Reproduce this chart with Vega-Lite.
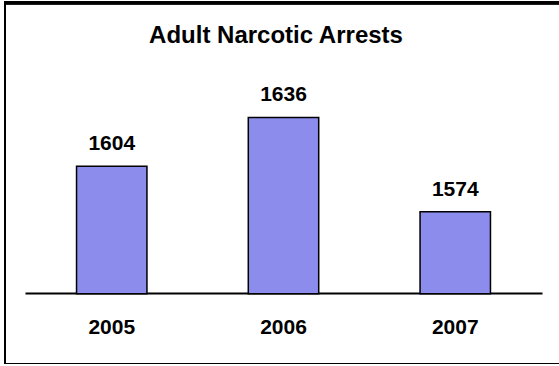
{
  "$schema": "https://vega.github.io/schema/vega-lite/v6.json",
  "autosize": {"type": "none"},
  "padding": {"left": 5, "top": 2, "right": 0, "bottom": 0},
  "width": 556,
  "height": 362,
  "background": "white",
  "config": {
    "view": {"stroke": "black", "strokeWidth": 2},
    "font": "Liberation Sans"
  },
  "title": {
    "text": "Adult Narcotic Arrests",
    "font": "Liberation Sans",
    "fontSize": 24,
    "fontWeight": "bold",
    "color": "black",
    "anchor": "middle",
    "baseline": "alphabetic",
    "offset": -65,
    "dx": -7
  },
  "data": {
    "values": [
      {"year": "2005", "arrests": 1604},
      {"year": "2006", "arrests": 1636},
      {"year": "2007", "arrests": 1574}
    ]
  },
  "layer": [
    {
      "mark": {"type": "bar", "fill": "#8c8cec", "stroke": "black", "strokeWidth": 1.5},
      "encoding": {
        "x": {
          "field": "year",
          "type": "nominal",
          "sort": null,
          "scale": {"range": [20, 537], "paddingInner": 0.59, "paddingOuter": 0.3},
          "axis": {
            "title": null,
            "orient": "bottom",
            "offset": -71,
            "domainColor": "black",
            "domainWidth": 2,
            "ticks": false,
            "tickSize": 0,
            "labelPadding": 23,
            "labelBaseline": "top",
            "labelFont": "Liberation Sans",
            "labelFontSize": 21,
            "labelFontWeight": "bold",
            "labelColor": "black",
            "labelAngle": 0
          }
        },
        "y": {
          "field": "arrests",
          "type": "quantitative",
          "scale": {"domain": [1473.8, 1712.0], "zero": false, "nice": false},
          "axis": null
        },
        "y2": {"datum": 1520}
      }
    },
    {
      "mark": {"type": "rule", "color": "black", "strokeWidth": 2},
      "encoding": {
        "y": {"datum": 1711.0}
      }
    },
    {
      "mark": {"type": "text", "font": "Liberation Sans", "fontSize": 21, "fontWeight": "bold", "color": "black", "baseline": "alphabetic", "dy": -16},
      "encoding": {
        "x": {"field": "year", "type": "nominal", "sort": null},
        "y": {"field": "arrests", "type": "quantitative"},
        "text": {"field": "arrests", "type": "quantitative", "format": "d"}
      }
    }
  ]
}
